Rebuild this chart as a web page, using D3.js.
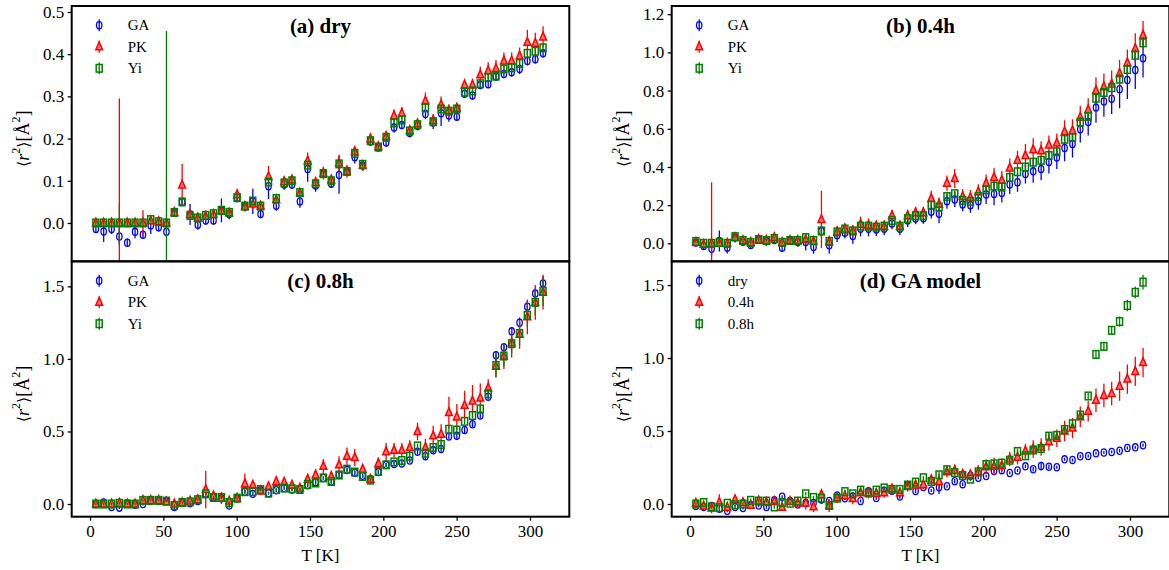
<!DOCTYPE html>
<html><head><meta charset="utf-8">
<script src="https://cdn.jsdelivr.net/npm/d3@7"></script>
<style>
body{margin:0;background:#fff}
svg{display:block}
text{font-family:"Liberation Serif","Times New Roman",serif;fill:#000}
</style>
</head><body>
<svg id="chart" width="1169" height="570"></svg>
<script>
// ---- data ----
const temperature = [4.0, 9.3, 14.7, 20.0, 25.4, 30.7, 36.1, 41.4, 46.8, 52.1, 57.5, 62.8, 68.2, 73.5, 78.9, 84.2, 89.6, 94.9, 100.3, 105.6, 111.0, 116.3, 121.7, 127.0, 132.4, 137.7, 143.1, 148.4, 153.8, 159.1, 164.5, 169.8, 175.2, 180.5, 185.9, 191.2, 196.6, 201.9, 207.3, 212.6, 218.0, 223.3, 228.7, 234.0, 239.4, 244.7, 250.1, 255.4, 260.8, 266.1, 271.5, 276.8, 282.2, 287.5, 292.9, 298.2, 303.6, 308.9];

// (a) dry
const dryGA = [-0.014,-0.020,-0.014,-0.032,-0.047,-0.021,-0.028,-0.006,-0.010,-0.021, 0.025,0.050,0.020,-0.004,0.006,0.006,0.030,0.021,0.059,0.039, 0.051,0.021,0.087,0.041,0.091,0.091,0.051,0.128,0.089,0.117, 0.093,0.114,0.122,0.156,0.136,0.193,0.179,0.191,0.226,0.232, 0.213,0.230,0.258,0.238,0.260,0.255,0.252,0.306,0.302,0.327, 0.329,0.347,0.353,0.357,0.365,0.384,0.388,0.402];
const dryGAerr = [0.01,0.025,0.012,0.02,0.01,0.015,0.01,0.02,0.01,0.012, 0.008,0.01,0.025,0.012,0.01,0.01,0.028,0.012,0.01,0.012, 0.03,0.01,0.03,0.012,0.012,0.01,0.015,0.03,0.015,0.01, 0.01,0.045,0.01,0.015,0.012,0.01,0.01,0.01,0.012,0.01, 0.01,0.01,0.012,0.015,0.03,0.015,0.01,0.01,0.01,0.01, 0.01,0.01,0.01,0.01,0.012,0.01,0.01,0.01];
const dryPK = [0,0,0,0,0,0,0,0.005,0.003,0, 0.025,0.090,0.020,0.012,0.016,0.020,0.029,0.024,0.067,0.039, 0.045,0.040,0.110,0.055,0.098,0.102,0.071,0.147,0.096,0.118, 0.102,0.142,0.122,0.169,0.136,0.199,0.181,0.205,0.254,0.260, 0.219,0.235,0.289,0.243,0.280,0.266,0.272,0.327,0.327,0.351, 0.361,0.366,0.384,0.384,0.396,0.428,0.426,0.441];
const dryPKerr = [0.01,0.01,0.01,0.295,0.01,0.012,0.03,0.01,0.01,0.01, 0.01,0.05,0.012,0.01,0.01,0.01,0.012,0.01,0.012,0.01, 0.012,0.01,0.025,0.012,0.012,0.012,0.012,0.02,0.01,0.015, 0.012,0.02,0.015,0.012,0.012,0.015,0.012,0.012,0.015,0.015, 0.012,0.012,0.02,0.015,0.02,0.015,0.012,0.015,0.015,0.02, 0.02,0.02,0.02,0.02,0.02,0.03,0.025,0.025];
const dryYi = [0,0,0,0,0,0,0,0.008,0.003,0, 0.025,0.050,0.018,0.012,0.018,0.022,0.030,0.025,0.060,0.040, 0.052,0.040,0.097,0.058,0.095,0.100,0.072,0.137,0.093,0.117, 0.100,0.140,0.122,0.165,0.139,0.195,0.180,0.203,0.237,0.244, 0.218,0.233,0.273,0.240,0.270,0.265,0.270,0.310,0.313,0.330, 0.345,0.348,0.365,0.368,0.378,0.402,0.407,0.415];
const dryYiErr = [0.006,0.006,0.006,0.048,0.006,0.006,0.006,0.006,0.006,0.455, 0.006,0.006,0.006,0.006,0.006,0.006,0.006,0.006,0.008,0.006, 0.006,0.006,0.008,0.006,0.008,0.008,0.006,0.008,0.006,0.008, 0.006,0.008,0.006,0.008,0.006,0.008,0.006,0.008,0.008,0.008, 0.006,0.008,0.008,0.008,0.008,0.008,0.008,0.01,0.01,0.01, 0.01,0.01,0.01,0.01,0.01,0.01,0.01,0.01];

// (b) 0.4h
const h04GA = [0.005,-0.014,-0.028,0.012,-0.023,0.030,0.009,-0.009,0.021,0.012, 0.017,-0.023,0.017,0.007,0.007,-0.019,0.064,-0.010,0.042,0.056, 0.038,0.077,0.077,0.073,0.077,0.104,0.077,0.120,0.130,0.132, 0.165,0.155,0.221,0.230,0.203,0.200,0.221,0.256,0.259,0.264, 0.308,0.320,0.363,0.377,0.390,0.426,0.450,0.500,0.520,0.598, 0.635,0.711,0.743,0.757,0.807,0.856,0.908,0.969];
const h04GAerr = [0.02,0.02,0.035,0.055,0.03,0.025,0.02,0.02,0.02,0.025, 0.02,0.02,0.02,0.025,0.045,0.035,0.03,0.045,0.035,0.03, 0.04,0.04,0.04,0.035,0.035,0.03,0.035,0.035,0.03,0.03, 0.035,0.05,0.04,0.04,0.035,0.04,0.045,0.05,0.06,0.05, 0.05,0.05,0.05,0.06,0.06,0.06,0.06,0.07,0.07,0.07, 0.07,0.08,0.08,0.08,0.1,0.1,0.1,0.1];
const h04PK = [0.005,-0.005,0,0,0,0.030,0.015,0.005,0.020,0.015, 0.030,0.005,0.015,0.015,0.020,0.010,0.125,0.010,0.060,0.075, 0.065,0.100,0.095,0.090,0.090,0.145,0.090,0.145,0.160,0.160, 0.235,0.205,0.315,0.340,0.245,0.240,0.270,0.315,0.345,0.330, 0.395,0.435,0.460,0.490,0.485,0.515,0.525,0.585,0.590,0.660, 0.700,0.800,0.820,0.835,0.890,0.945,1.020,1.090];
const h04PKerr = [0.015,0.015,0.32,0.02,0.015,0.02,0.02,0.015,0.02,0.03, 0.02,0.015,0.02,0.02,0.02,0.02,0.15,0.02,0.03,0.03, 0.03,0.04,0.035,0.03,0.03,0.03,0.03,0.03,0.03,0.03, 0.04,0.035,0.04,0.05,0.04,0.04,0.04,0.045,0.05,0.05, 0.05,0.05,0.06,0.06,0.05,0.05,0.05,0.06,0.06,0.06, 0.06,0.07,0.07,0.07,0.07,0.07,0.08,0.075];
const h04Yi = [0.010,0,0,0.005,0,0.035,0.015,0.005,0.020,0.015, 0.025,0.005,0.015,0.015,0.030,0.015,0.065,0.010,0.060,0.075, 0.065,0.090,0.090,0.085,0.090,0.120,0.090,0.130,0.145,0.145, 0.200,0.190,0.245,0.260,0.225,0.220,0.245,0.280,0.300,0.295, 0.345,0.375,0.400,0.425,0.435,0.460,0.480,0.545,0.555,0.635, 0.665,0.760,0.790,0.815,0.860,0.910,0.985,1.050];
const h04YiErr = [0.01,0.01,0.01,0.01,0.01,0.01,0.01,0.01,0.01,0.01, 0.01,0.01,0.01,0.01,0.01,0.01,0.012,0.01,0.012,0.012, 0.012,0.012,0.012,0.012,0.012,0.012,0.012,0.012,0.012,0.012, 0.015,0.015,0.015,0.015,0.015,0.015,0.015,0.015,0.015,0.015, 0.018,0.018,0.018,0.018,0.018,0.02,0.02,0.02,0.02,0.025, 0.025,0.025,0.025,0.03,0.03,0.03,0.03,0.03];

// (c) 0.8h
const h08GA = [0,0.01,-0.02,-0.025,0.005,-0.005,0,0.025,0.02,0.02, -0.02,0.01,0.005,0.02,0.07,0.045,0.04,-0.01,0.04,0.085, 0.07,0.095,0.075,0.095,0.11,0.10,0.10,0.13,0.15,0.18, 0.155,0.20,0.235,0.215,0.195,0.17,0.22,0.27,0.275,0.28, 0.30,0.36,0.33,0.37,0.38,0.465,0.47,0.51,0.55,0.61, 0.74,1.025,1.08,1.19,1.25,1.36,1.45,1.52];
const h08GAerr = [0.01,0.012,0.01,0.01,0.01,0.01,0.01,0.012,0.01,0.01, 0.012,0.01,0.01,0.012,0.012,0.01,0.01,0.015,0.01,0.012, 0.01,0.012,0.01,0.012,0.012,0.012,0.012,0.012,0.015,0.012, 0.015,0.025,0.015,0.015,0.015,0.012,0.015,0.015,0.015,0.015, 0.015,0.02,0.02,0.02,0.02,0.02,0.025,0.02,0.02,0.02, 0.02,0.03,0.03,0.03,0.035,0.04,0.04,0.05];
const h08PK = [0,0,0,0.005,0,0,0.025,0.025,0.025,0.015, 0,0.01,0.02,0.03,0.1,0.055,0.04,0.02,0.04,0.14, 0.13,0.09,0.12,0.155,0.15,0.13,0.11,0.17,0.2,0.26, 0.19,0.27,0.33,0.32,0.24,0.17,0.28,0.36,0.37,0.37, 0.39,0.5,0.39,0.47,0.48,0.63,0.6,0.68,0.71,0.73, 0.8,0.95,1.02,1.11,1.17,1.29,1.39,1.46];
const h08PKerr = [0.01,0.01,0.01,0.01,0.01,0.01,0.015,0.015,0.015,0.015, 0.015,0.015,0.015,0.015,0.13,0.03,0.04,0.02,0.02,0.07, 0.02,0.02,0.025,0.03,0.03,0.025,0.02,0.04,0.04,0.05, 0.03,0.06,0.06,0.06,0.03,0.015,0.04,0.06,0.05,0.05, 0.05,0.06,0.06,0.07,0.07,0.11,0.09,0.1,0.11,0.1, 0.06,0.08,0.09,0.1,0.1,0.12,0.12,0.12];
const h08Yi = [0,0,0,0.005,0,0,0.025,0.025,0.025,0.02, -0.01,0.01,0.015,0.03,0.07,0.045,0.045,0.01,0.04,0.085, 0.085,0.1,0.075,0.1,0.11,0.105,0.1,0.135,0.145,0.18, 0.155,0.2,0.24,0.22,0.19,0.165,0.225,0.27,0.29,0.3, 0.33,0.4,0.35,0.39,0.41,0.515,0.51,0.57,0.61,0.655, 0.76,0.955,1.02,1.105,1.175,1.3,1.39,1.465];
const h08YiErr = [0.008,0.008,0.008,0.008,0.008,0.008,0.008,0.008,0.008,0.008, 0.008,0.008,0.008,0.008,0.01,0.01,0.01,0.01,0.01,0.01, 0.01,0.01,0.01,0.01,0.01,0.01,0.01,0.012,0.012,0.012, 0.012,0.012,0.012,0.012,0.012,0.012,0.012,0.015,0.015,0.015, 0.015,0.015,0.015,0.015,0.015,0.02,0.02,0.02,0.02,0.03, 0.03,0.08,0.07,0.07,0.08,0.08,0.09,0.1];

// axes / labels
const xTicks = [0, 50, 100, 150, 200, 250, 300];
const yTicksA = [0, 0.1, 0.2, 0.3, 0.4, 0.5];
const yTicksB = [0, 0.2, 0.4, 0.6, 0.8, 1.0, 1.2];
const yTicksCD = [0, 0.5, 1.0, 1.5];
const panelTitles = ["(a) dry", "(b) 0.4h", "(c) 0.8h", "(d) GA model"];
const methodNames = ["GA", "PK", "Yi"];
const hydrationNames = ["dry", "0.4h", "0.8h"];

// ---- drawing ----
const svg = d3.select("#chart");
const colors = ["#0000ff", "#ff0000", "#008000"];
const shapes = ["circle", "triangle", "square"];
const W = 497.6, H = 255.3;
const L1 = 71.7, L2 = 671.7, T1 = 6.0, T2 = 261.4;
const xDom = [-12.5, 326.8];

const panels = [
  {left:L1, top:T1, yDom:[-0.0908,0.5142], yTicks:yTicksA, title:panelTitles[0], names:methodNames,
   series:[[dryGA,dryGAerr],[dryPK,dryPKerr],[dryYi,dryYiErr]], xAxis:false},
  {left:L2, top:T1, yDom:[-0.094,1.243], yTicks:yTicksB, title:panelTitles[1], names:methodNames,
   series:[[h04GA,h04GAerr],[h04PK,h04PKerr],[h04Yi,h04YiErr]], xAxis:false},
  {left:L1, top:T2, yDom:[-0.0874,1.672], yTicks:yTicksCD, title:panelTitles[2], names:methodNames,
   series:[[h08GA,h08GAerr],[h08PK,h08PKerr],[h08Yi,h08YiErr]], xAxis:true},
  {left:L2, top:T2, yDom:[-0.087,1.662], yTicks:yTicksCD, title:panelTitles[3], names:hydrationNames,
   series:[[dryGA,dryGAerr],[h04GA,h04GAerr],[h08GA,h08GAerr]], xAxis:true}
];

function marker(g, shape, color, x, y) {
  if (shape === "circle") {
    g.append("ellipse").attr("cx", x).attr("cy", y).attr("rx", 2.7).attr("ry", 3.6)
      .attr("fill", "none").attr("stroke", color).attr("stroke-width", 1.3);
  } else if (shape === "triangle") {
    g.append("path").attr("d", `M${x},${y-4.8}L${x+3.4},${y+3.0}L${x-3.4},${y+3.0}Z`)
      .attr("fill", "#ff7070").attr("stroke", color).attr("stroke-width", 1.5).attr("stroke-linejoin","miter");
  } else {
    g.append("rect").attr("x", x-3.0).attr("y", y-3.8).attr("width", 6.0).attr("height", 7.6)
      .attr("fill", "none").attr("stroke", color).attr("stroke-width", 1.5);
  }
}

panels.forEach((p, pi) => {
  const x = d3.scaleLinear().domain(xDom).range([p.left, p.left + W]);
  const y = d3.scaleLinear().domain(p.yDom).range([p.top + H, p.top]);
  const clipId = "clip" + pi;
  svg.append("clipPath").attr("id", clipId).append("rect")
    .attr("x", p.left).attr("y", p.top).attr("width", W).attr("height", H);
  const g = svg.append("g").attr("clip-path", `url(#${clipId})`);

  p.series.forEach((s, si) => {
    const vals = s[0], errs = s[1];
    const sg = g.append("g");
    sg.selectAll("line").data(vals).join("line")
      .attr("x1", (d, i) => x(temperature[i])).attr("x2", (d, i) => x(temperature[i]))
      .attr("y1", (d, i) => y(d - errs[i])).attr("y2", (d, i) => y(d + errs[i]))
      .attr("stroke", colors[si]).attr("stroke-width", 1.3);
    vals.forEach((d, i) => marker(sg, shapes[si], colors[si], x(temperature[i]), y(d)));
  });

  // y axis
  const ya = svg.append("g").attr("transform", `translate(${p.left},0)`)
    .call(d3.axisLeft(y).tickValues(p.yTicks).tickFormat(d3.format(".1f")).tickSize(4).tickPadding(3.5));
  ya.select(".domain").remove();
  ya.selectAll(".tick line").attr("stroke", "#000").attr("stroke-width", 1.3);
  ya.selectAll(".tick text").style("font-family", "Liberation Serif").style("font-size", "17px");

  if (p.xAxis) {
    const xa = svg.append("g").attr("transform", `translate(0,${p.top + H})`)
      .call(d3.axisBottom(x).tickValues(xTicks).tickSize(4).tickPadding(4));
    xa.select(".domain").remove();
    xa.selectAll(".tick line").attr("stroke", "#000").attr("stroke-width", 1.3);
    xa.selectAll(".tick text").style("font-family", "Liberation Serif").style("font-size", "17px");
    svg.append("text").attr("x", p.left + W / 2).attr("y", 561)
      .attr("text-anchor", "middle").style("font-size", "17px").text("T [K]");
  }

  // spines
  svg.append("rect").attr("x", p.left).attr("y", p.top).attr("width", W).attr("height", H)
    .attr("fill", "none").attr("stroke", "#000").attr("stroke-width", 2);

  // y label
  const yl = svg.append("text")
    .attr("transform", `translate(${p.left - 49},${p.top + H / 2 + 5}) rotate(-90)`)
    .attr("text-anchor", "middle").attr("dominant-baseline", "central").style("font-size", "18px");
  yl.append("tspan").style("font-family", "DejaVu Serif").style("font-size", "16px").text("\u27E8");
  yl.append("tspan").style("font-style", "italic").text("r");
  yl.append("tspan").attr("dy", -7).style("font-size", "12px").text("2");
  yl.append("tspan").attr("dy", 7).style("font-family", "DejaVu Serif").style("font-size", "16px").text("\u27E9");
  yl.append("tspan").text("[\u00C5");
  yl.append("tspan").attr("dy", -7).style("font-size", "12px").text("2");
  yl.append("tspan").attr("dy", 7).text("]");

  // title
  svg.append("text").attr("x", p.left + W / 2).attr("y", p.top + 26.5)
    .attr("text-anchor", "middle").style("font-size", "21px").style("font-weight", "bold").text(p.title);

  // legend
  p.names.forEach((n, li) => {
    const ly = p.top + 19.3 + li * 21.5;
    const lx = p.left + 27.5;
    const lg = svg.append("g");
    lg.append("line").attr("x1", lx).attr("x2", lx).attr("y1", ly - 6).attr("y2", ly + 6)
      .attr("stroke", colors[li]).attr("stroke-width", 1.3);
    marker(lg, shapes[li], colors[li], lx, ly);
    lg.append("text").attr("x", p.left + 56).attr("y", ly).attr("dominant-baseline", "central")
      .style("font-size", "15px").text(n);
  });
});
</script>
</body></html>
